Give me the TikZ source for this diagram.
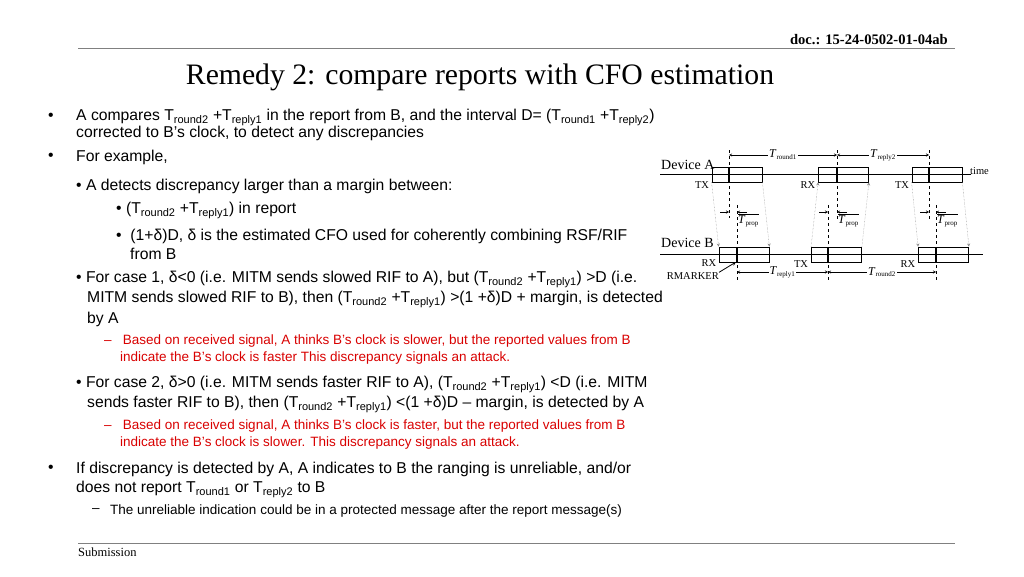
\documentclass[tikz,border=0pt]{standalone}
\usepackage{fontspec}
\setmainfont{Liberation Sans}
\newfontfamily\tms{Liberation Serif}
\newcommand{\Ts}[1]{T\textsubscript{#1}}
\newcommand{\Td}[1]{\textit{T}\textsubscript{\scriptsize #1}}
\begin{document}
\begin{tikzpicture}[x=1pt,y=-1pt]

\tikzstyle{txt}=[anchor=west,inner sep=0pt,font=\fontsize{15.7}{18}\selectfont]
\tikzstyle{red}=[anchor=west,inner sep=0pt,text=red!85!black,font=\fontsize{13.5}{15}\selectfont]
\tikzstyle{frame}=[rectangle,draw,thick,minimum width=50pt,minimum height=15pt,inner sep=0pt]
\tikzstyle{lbl}=[inner sep=0pt,font=\tms\fontsize{10.5}{11}\selectfont]
\tikzstyle{tl}=[inner sep=1pt,fill=white,font=\tms\fontsize{12}{13}\selectfont]
\tikzstyle{dl}=[dashed,thin]
\tikzstyle{dt}=[densely dotted,gray,->,>=stealth]
\fill[white] (0,0) rectangle (1024,576);

% header and footer
\draw[gray,thick] (78,48) -- (955,48);
\draw[gray,thick] (78,543) -- (955,543);
\node[anchor=east,inner sep=0pt,font=\tms\bfseries\fontsize{14.6}{16}\selectfont] (doc) at (948,40) {doc.: 15-24-0502-01-04ab};
\node[anchor=west,inner sep=0pt,font=\tms\fontsize{12.5}{14}\selectfont] (sub) at (78,552) {Submission};
\node[inner sep=0pt,font=\tms\fontsize{29.7}{32}\selectfont] (title) at (480,77) {Remedy 2: compare reports with CFO estimation};

% body text
\node[txt] (b1) at (48,117) {•};
\node[txt] (t1) at (76,117) {A compares \Ts{round2} +\Ts{reply1} in the report from B, and the interval D= (\Ts{round1} +\Ts{reply2})};
\node[txt] (t1b) at (76,133) {corrected to B’s clock, to detect any discrepancies};
\node[txt] (b2) at (48,157) {•};
\node[txt] (t2) at (76,157) {For example,};
\node[txt] (t3) at (76,186) {• A detects discrepancy larger than a margin between:};
\node[txt] (t4) at (116,210) {• (\Ts{round2} +\Ts{reply1}) in report};
\node[txt] (t5) at (116,236) {•\ \ (1+δ)D, δ is the estimated CFO used for coherently combining RSF/RIF};
\node[txt] (t5b) at (130,254) {from B};
\node[txt] (t6) at (76,279) {• For case 1, δ<0 (i.e. MITM sends slowed RIF to A), but (\Ts{round2} +\Ts{reply1}) >D (i.e.};
\node[txt] (t6b) at (87,299) {MITM sends slowed RIF to B), then (\Ts{round2} +\Ts{reply1}) >(1 +δ)D + margin, is detected};
\node[txt] (t6c) at (87,319) {by A};
\node[red] (r1) at (104,341) {–\ \ \ Based on received signal, A thinks B’s clock is slower, but the reported values from B};
\node[red] (r1b) at (120,358) {indicate the B's clock is faster This discrepancy signals an attack.};
\node[txt] (t7) at (76,384) {• For case 2, δ>0 (i.e. MITM sends faster RIF to A), (\Ts{round2} +\Ts{reply1}) <D (i.e. MITM};
\node[txt] (t7b) at (87,404) {sends faster RIF to B), then (\Ts{round2} +\Ts{reply1}) <(1 +δ)D – margin, is detected by A};
\node[red] (r2) at (104,426) {–\ \ \ Based on received signal, A thinks B’s clock is faster, but the reported values from B};
\node[red] (r2b) at (120,443) {indicate the B's clock is slower. This discrepancy signals an attack.};
\node[txt] (b3) at (48,469) {•};
\node[txt] (t8) at (76,469) {If discrepancy is detected by A, A indicates to B the ranging is unreliable, and/or};
\node[txt] (t8b) at (76,489) {does not report \Ts{round1} or \Ts{reply2} to B};
\node[anchor=west,inner sep=0pt,font=\fontsize{13.5}{15}\selectfont] (d1) at (92,511) {–};
\node[anchor=west,inner sep=0pt,font=\fontsize{13.5}{15}\selectfont] (t9) at (110,511) {The unreliable indication could be in a protected message after the report message(s)};

% timing diagram
\node[anchor=west,inner sep=0pt,font=\tms\fontsize{14}{15}\selectfont] (devA) at (661,165) {Device A};
\node[anchor=west,inner sep=0pt,font=\tms\fontsize{14}{15}\selectfont] (devB) at (661,243) {Device B};
\draw (660,174.5) -- (971,174.5);
\draw (660,254.5) -- (983,254.5);
\node[lbl,anchor=west] (time) at (970,171) {time};
\node[frame] (a1) at (737,174.5) {};
\node[frame] (a2) at (843.5,174.5) {};
\node[frame] (a3) at (937,174.5) {};
\node[frame] (b1x) at (744,254.5) {};
\node[frame] (b2x) at (836.5,254.5) {};
\node[frame] (b3x) at (943.5,254.5) {};
\draw[very thick] (729,167) -- (729,182) (837,167) -- (837,182) (929,167) -- (929,182);
\draw[very thick] (737,247) -- (737,262) (828,247) -- (828,262) (936,247) -- (936,262);
\node[lbl] (txa1) at (702,185) {TX};
\node[lbl] (rxa2) at (808,185) {RX};
\node[lbl] (txa3) at (902,185) {TX};
\node[lbl] (rxb1) at (709,263) {RX};
\node[lbl] (txb2) at (801,264) {TX};
\node[lbl] (rxb3) at (908,264) {RX};
% dashed markers
\draw[dl] (729,150) -- (729,218) (837,150) -- (837,220) (929,150) -- (929,220);
\draw[dl] (737,205) -- (737,280) (828,205) -- (828,280) (936,205) -- (936,280);
% dotted signal paths
\draw[dt] (a1.south west) -- (b1x.north west);
\draw[dt] (a1.south east) -- (b1x.north east);
\draw[dt] (b2x.north west) -- (a2.south west);
\draw[dt] (b2x.north east) -- (a2.south east);
\draw[dt] (a3.south west) -- (b3x.north west);
\draw[dt] (a3.south east) -- (b3x.north east);
% intervals
\draw[<->,>=stealth] (729,155) -- node[tl] {\Td{round1}} (837,155);
\draw[<->,>=stealth] (837,155) -- node[tl] {\Td{reply2}} (929,155);
\draw[<->,>=stealth] (737,272) -- node[tl] {\Td{reply1}} (828,272);
\draw[<->,>=stealth] (828,272) -- node[tl] {\Td{round2}} (936,272);
% propagation
\foreach \l/\r in {729/737, 837/828, 929/936}{
  \draw[->,>=stealth] ({min(\l,\r)-9},212) -- ({min(\l,\r)},212);
  \draw[->,>=stealth] ({max(\l,\r)+10},212) -- ({max(\l,\r)},212);
  \node[lbl,anchor=west,font=\tms\fontsize{12}{13}\selectfont] at ({max(\l,\r)+1},220) {$\overline{\mbox{\Td{prop}}}$};
}
\node[lbl,anchor=east] (rm) at (719,276) {RMARKER};
\draw[->,>=stealth,thick] (rm.north east) -- (736,262);
\end{tikzpicture}
\end{document}
